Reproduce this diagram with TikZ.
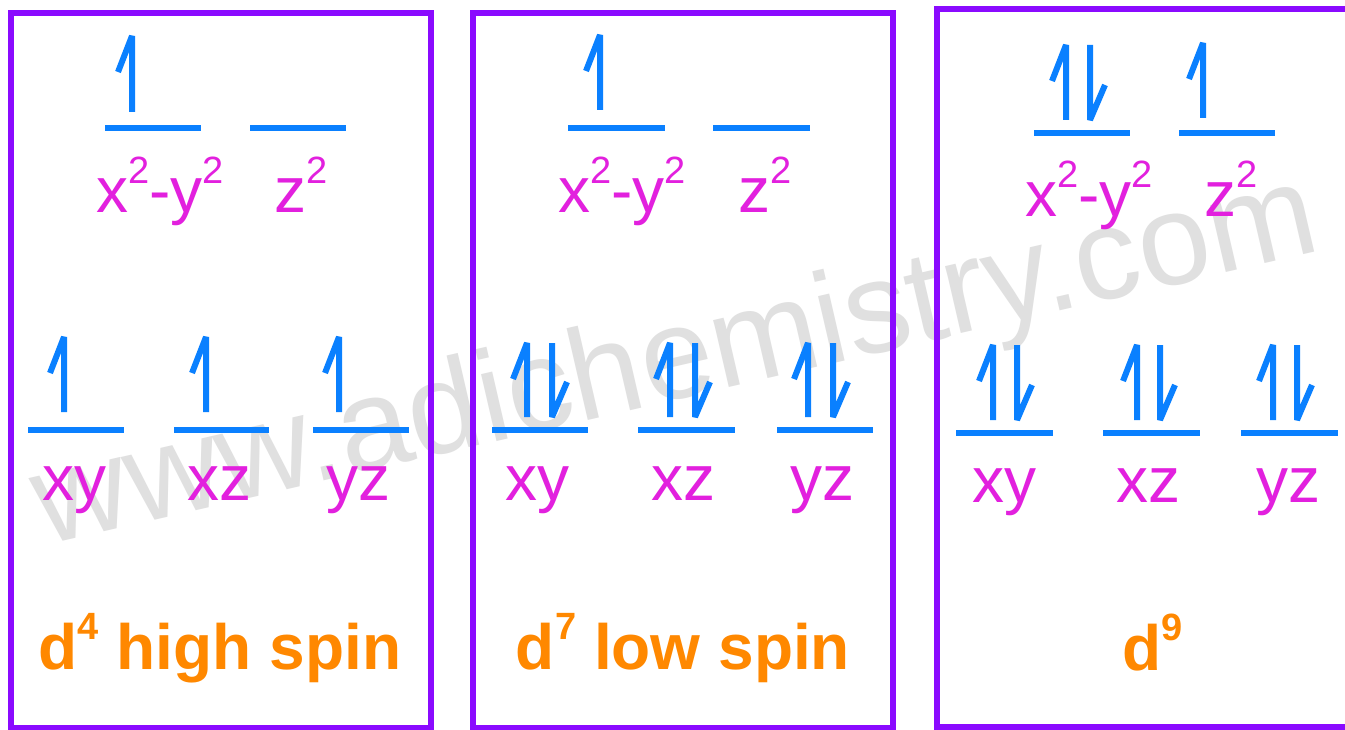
\documentclass[tikz,border=0pt]{standalone}
\usepackage{fontspec}
\setmainfont{Liberation Sans}
\definecolor{boxpurple}{RGB}{138,10,255}
\definecolor{orbblue}{RGB}{10,128,255}
\definecolor{lblmag}{RGB}{226,32,222}
\definecolor{cfgorange}{RGB}{255,136,0}
\definecolor{wmgray}{RGB}{224,224,224}
\newcommand\supr[1]{\raisebox{0.46em}{\fontsize{38}{38}\selectfont #1}}
\newcommand\eup[3]{\draw[elec] (#1,#3) -- (#1,#2) -- ++(-14,36);}
\newcommand\edn[3]{\draw[elec] (#1,#2) -- (#1,#3) -- ++(15,-35);}
\newcommand\orbline[3]{\draw[orb] (#2,#1) -- (#3,#1);}
\tikzset{
  framebox/.style={draw=boxpurple, line width=6pt},
  orb/.style={draw=orbblue, line width=6pt},
  elec/.style={draw=orbblue, line width=6pt, line join=bevel},
  lbl/.style={text=lblmag, inner sep=0pt, anchor=base, font=\fontsize{64}{64}\selectfont},
  cfg/.style={text=cfgorange, inner sep=0pt, anchor=base, font=\fontsize{64}{64}\selectfont\bfseries},
  wm/.style={text=wmgray, inner sep=0pt, anchor=base, font=\fontsize{130}{130}\selectfont}
}
\begin{document}
\begin{tikzpicture}[x=1pt,y=-1pt]
\clip (0,0) rectangle (1345,730);
\fill[white] (0,0) rectangle (1345,730);
% watermark
\node[wm, rotate=13] (wm) at (684,398) {www.adichemistry.com};
% frames
\draw[framebox] (11,13) rectangle (431,728);
\draw[framebox] (473,13) rectangle (893,728);
\draw[framebox] (937,9) rectangle (1365,727);
% orbital lines
\orbline{128}{105}{201}\orbline{128}{250}{346}
\orbline{430}{28}{124}\orbline{430}{174}{269}\orbline{430}{313}{409}
\orbline{128}{568}{665}\orbline{128}{713}{810}
\orbline{430}{492}{588}\orbline{430}{638}{735}\orbline{430}{777}{873}
\orbline{133}{1034}{1130}\orbline{133}{1179}{1275}
\orbline{433}{956}{1053}\orbline{433}{1103}{1200}\orbline{433}{1241}{1338}
% electrons box 1
\eup{132}{36}{112}
\eup{64}{337}{412}\eup{206}{337}{412}\eup{339}{337}{412}
% electrons box 2
\eup{600}{35}{110}
\eup{527}{343}{417}\edn{552}{343}{417}
\eup{670}{343}{417}\edn{695}{343}{417}
\eup{808}{343}{417}\edn{833}{343}{417}
% electrons box 3
\eup{1066}{45}{120}\edn{1090}{45}{120}
\eup{1203}{43}{118}
\eup{993}{345}{420}\edn{1017}{345}{420}
\eup{1137}{345}{420}\edn{1160}{345}{420}
\eup{1273}{345}{420}\edn{1297}{345}{420}
% labels box 1
\node[lbl] (a1) at (160,213) {x\supr{2}-y\supr{2}};
\node[lbl] (a2) at (301,213) {z\supr{2}};
\node[lbl] (a3) at (74,500) {xy};
\node[lbl] (a4) at (219,500) {xz};
\node[lbl] (a5) at (358,500) {yz};
% labels box 2
\node[lbl] (b1) at (622,213) {x\supr{2}-y\supr{2}};
\node[lbl] (b2) at (765,213) {z\supr{2}};
\node[lbl] (b3) at (537,500) {xy};
\node[lbl] (b4) at (683,500) {xz};
\node[lbl] (b5) at (822,500) {yz};
% labels box 3
\node[lbl] (c1) at (1089,217) {x\supr{2}-y\supr{2}};
\node[lbl] (c2) at (1231,217) {z\supr{2}};
\node[lbl] (c3) at (1004,502) {xy};
\node[lbl] (c4) at (1148,502) {xz};
\node[lbl] (c5) at (1288,502) {yz};
% configurations
\node[cfg] (d1) at (220,669) {d\supr{\bfseries 4} high spin};
\node[cfg] (d2) at (683,669) {d\supr{\bfseries 7} low spin};
\node[cfg] (d3) at (1153,670) {d\supr{\bfseries 9}};
\end{tikzpicture}
\end{document}
